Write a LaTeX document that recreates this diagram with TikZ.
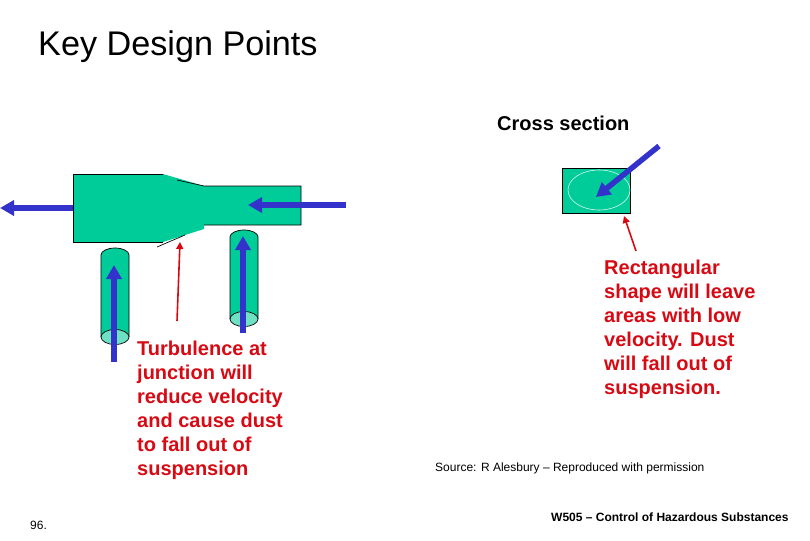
\documentclass[tikz,border=0pt]{standalone}
\usepackage{fontspec}
\setmainfont{Liberation Sans}
\usetikzlibrary{arrows.meta, shapes.geometric}
\definecolor{ductgreen}{RGB}{0,204,153}
\definecolor{hopperlight}{RGB}{110,225,195}
\definecolor{flowblue}{RGB}{51,51,204}
\definecolor{notered}{RGB}{215,10,20}
\tikzset{
  flow/.style={draw=flowblue, line width=5.5pt, -{Triangle[length=14pt,width=15pt]}},
  note/.style={draw=notered, line width=1.6pt, -{Triangle[length=7pt,width=7pt]}},
  notetext/.style={inner sep=0pt, anchor=north west, align=left, text=notered, font=\fontsize{20}{24}\selectfont\bfseries},
  hopper/.style={draw=black, fill=ductgreen, line width=0.7pt}
}
\begin{document}
\begin{tikzpicture}[x=1pt,y=-1pt]
\useasboundingbox (0,0) rectangle (810,540);

% define the duct
  \fill[ductgreen] (73,174) -- (163,174) -- (204,186) -- (301,186) -- (301,225) -- (204,225) -- (204,229) -- (163,242) -- (73,242) -- cycle;
  \draw[line width=0.7pt] (163,242) -- (73,242) -- (73,174) -- (163,174);
  \draw[line width=0.7pt] (177,180) -- (204,186) -- (301,186) -- (301,225) -- (204,225);
  \draw[line width=0.7pt] (157,247) -- (185,235);

% define the hoppers
  \draw[hopper] (101,337) -- (101,255) arc[start angle=180, end angle=360, x radius=14, y radius=7] -- (129,337);
  \draw[black, fill=hopperlight, line width=0.7pt] (115,337) ellipse (14 and 7.5);
  \draw[hopper] (230,319) -- (230,237) arc[start angle=180, end angle=360, x radius=14, y radius=7] -- (258,319);
  \draw[black, fill=hopperlight, line width=0.7pt] (244,319) ellipse (14 and 7.5);

% define the cross section
  \node[draw=black, fill=ductgreen, line width=0.8pt, minimum width=68pt, minimum height=45pt, inner sep=0pt] (section) at (596.5,190.5) {};
  \node[draw=white!85!ductgreen, ellipse, line width=0.6pt, minimum width=62pt, minimum height=40pt, inner sep=0pt] (core) at (599,190) {};

% define the flows
  \coordinate (outA) at (73,208);
  \coordinate (outB) at (0,208);
  \coordinate (inA) at (346,205);
  \coordinate (inB) at (248,205);
  \coordinate (riseA) at (114,362);
  \coordinate (riseB) at (114,265);
  \coordinate (riseC) at (243,333);
  \coordinate (riseD) at (243,236);
  \coordinate (diagA) at (659,146);
  \coordinate (diagB) at (596,197);
  \draw[flow] (outA) -- (outB);
  \draw[flow] (inA) -- (inB);
  \draw[flow] (riseA) -- (riseB);
  \draw[flow] (riseC) -- (riseD);
  \draw[flow] (diagA) -- (diagB);

% define the notes
  \coordinate (noteA) at (177,321);
  \coordinate (noteB) at (180,242);
  \coordinate (noteC) at (636,251);
  \coordinate (noteD) at (624,216);
  \draw[note] (noteA) -- (noteB);
  \draw[note] (noteC) -- (noteD);

% define the text
  \node[inner sep=0pt, anchor=west, font=\fontsize{34.2}{40}\selectfont] (title) at (38,47) {Key Design Points};
  \node[inner sep=0pt, anchor=west, font=\fontsize{20}{24}\selectfont\bfseries] (crosslabel) at (497,123) {Cross section};
  \node[notetext] (turbulence) at (137,341) {Turbulence at\\junction will\\reduce velocity\\and cause dust\\to fall out of\\suspension};
  \node[notetext] (rectangular) at (604,260) {Rectangular\\shape will leave\\areas with low\\velocity. Dust\\will fall out of\\suspension.};
  \node[inner sep=0pt, anchor=west, font=\fontsize{12}{14}\selectfont] (source) at (435,468) {Source: R Alesbury – Reproduced with permission};
  \node[inner sep=0pt, anchor=west, font=\fontsize{12}{14}\selectfont] (page) at (30,525) {96.};
  \node[inner sep=0pt, anchor=west, font=\fontsize{12}{14}\selectfont\bfseries] (course) at (551,517) {W505 – Control of Hazardous Substances};
\end{tikzpicture}
\end{document}
